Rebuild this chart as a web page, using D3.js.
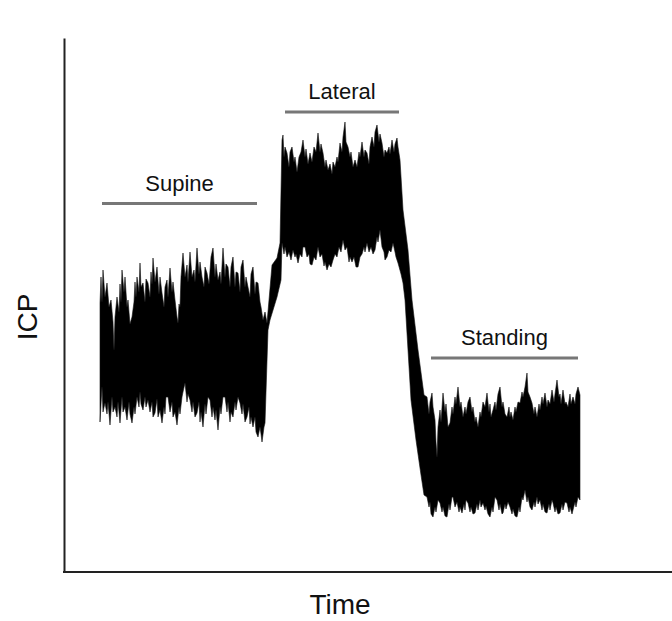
<!DOCTYPE html>
<html>
<head>
<meta charset="utf-8">
<script src="https://cdn.jsdelivr.net/npm/d3@7"></script>
<style>
  body { margin: 0; background: #fff; }
  svg { display: block; font-family: "Liberation Sans", Arial, Helvetica, sans-serif; }
</style>
</head>
<body>
<svg id="chart"></svg>
<script>
// upper envelope of the ICP trace: [time (s), ICP]
const peaks = [
  // supine
  [35, 26.9], [36, 29.5], [37, 27.0], [38, 30.2], [40, 27.5], [42, 28.9], [44, 26.5], [46, 27.2],
  [48, 25.0], [49, 22.2], [50, 25.5], [52, 27.5], [54, 26.0], [55, 28.8], [56, 27.0], [57, 30.2],
  [59, 28.0], [60, 29.5], [62, 26.5], [63, 27.2], [65, 24.8], [67, 25.5], [69, 27.0], [70, 29.0],
  [71, 27.5], [72, 29.5], [74, 28.0], [75, 30.9], [76, 28.5], [78, 28.9], [80, 27.0], [81, 29.3],
  [83, 28.9], [85, 27.5], [86, 30.0], [87, 28.8], [88, 31.4], [90, 29.0], [92, 30.5], [94, 27.8],
  [95, 29.5], [97, 27.9], [99, 26.5], [100, 28.5], [102, 29.2], [103, 27.5], [105, 30.4], [107, 28.0],
  [108, 29.0], [110, 27.2], [112, 25.5], [113, 24.9], [114, 26.8], [115, 26.5], [116, 29.5], [118, 31.9],
  [120, 29.5], [122, 30.7], [123, 29.0], [125, 32.0], [127, 29.5], [129, 30.2], [130, 29.0], [132, 32.4],
  [134, 29.8], [135, 31.0], [137, 29.5], [139, 28.5], [140, 30.5], [142, 29.9], [144, 28.8], [146, 31.5],
  [148, 32.4], [150, 29.5], [151, 30.8], [153, 29.2], [155, 30.0], [156, 28.8], [158, 32.4], [160, 29.5],
  [161, 30.8], [163, 30.5], [165, 28.5], [166, 30.5], [168, 31.5], [170, 28.5], [171, 30.0], [173, 29.9],
  [175, 28.0], [176, 30.5], [178, 31.2], [180, 28.5], [181, 29.5], [183, 28.5], [185, 27.5], [186, 29.8],
  [188, 30.5], [190, 27.8], [191, 29.0], [193, 28.9], [195, 27.0], [196, 26.5], [198, 25.2], [200, 26.0],
  [202, 24.9],
  // change to lateral
  [204, 27.2], [207, 30.7], [212, 31.4], [215, 32.9],
  // lateral
  [217, 43.2], [218, 43.7], [219, 41.5], [220, 42.5], [222, 41.9], [224, 40.5], [225, 42.0], [227, 42.5],
  [229, 41.0], [230, 41.5], [232, 40.0], [234, 41.5], [236, 42.0], [238, 43.2], [240, 41.5], [241, 42.3],
  [243, 40.8], [245, 41.9], [247, 41.0], [249, 42.5], [251, 42.0], [253, 43.9], [255, 42.0], [256, 42.8],
  [258, 41.9], [260, 40.5], [261, 41.2], [263, 40.2], [265, 40.8], [267, 39.8], [268, 41.0], [270, 40.5],
  [272, 41.5], [273, 41.0], [275, 42.9], [277, 42.0], [278, 43.5], [280, 45.0], [281, 43.0], [283, 42.5],
  [285, 41.5], [286, 42.0], [288, 40.5], [290, 41.2], [292, 40.5], [294, 42.0], [295, 41.5], [297, 43.0],
  [299, 41.5], [300, 42.2], [302, 41.9], [304, 40.8], [305, 42.5], [307, 43.5], [309, 42.5], [310, 44.0],
  [312, 44.7], [314, 43.0], [315, 43.8], [317, 42.9], [319, 41.5], [320, 42.2], [322, 41.9], [324, 42.5],
  [325, 41.8], [327, 43.2], [329, 42.0], [330, 42.8], [332, 43.4], [333, 42.5], [335, 41.2],
  // change to standing
  [338, 36.2], [343, 32.2], [347, 27.2], [353, 22.2], [359, 17.7],
  // standing
  [362, 17.5], [364, 15.8], [365, 17.0], [367, 17.9], [368, 16.5], [370, 15.2], [371, 13.0], [372, 11.5],
  [373, 14.5], [375, 16.2], [376, 15.0], [378, 17.9], [380, 16.0], [381, 16.8], [383, 14.5], [385, 14.9],
  [387, 16.5], [388, 15.8], [390, 17.5], [391, 16.8], [393, 18.5], [395, 16.5], [396, 17.0], [398, 15.5],
  [400, 16.5], [401, 15.8], [403, 17.0], [405, 17.5], [407, 16.0], [408, 16.5], [410, 15.0], [411, 15.5],
  [413, 14.5], [415, 16.0], [416, 15.5], [418, 17.0], [420, 16.5], [422, 17.9], [424, 16.0], [425, 16.8],
  [426, 15.5], [428, 16.2], [430, 17.0], [431, 16.2], [433, 17.8], [435, 18.5], [437, 16.5], [438, 17.0],
  [440, 15.8], [442, 15.5], [444, 16.5], [445, 15.5], [446, 16.0], [448, 15.2], [450, 16.5], [451, 16.0],
  [453, 17.0], [455, 16.9], [457, 18.0], [458, 17.5], [460, 18.5], [462, 19.9], [463, 18.0], [465, 17.5],
  [467, 16.9], [469, 15.8], [470, 16.5], [472, 15.5], [474, 16.8], [475, 16.2], [477, 17.5], [478, 16.8],
  [480, 17.9], [482, 16.5], [483, 17.2], [485, 16.8], [487, 18.2], [489, 17.0], [490, 17.8], [492, 19.2],
  [494, 17.5], [495, 17.8], [496, 16.8], [498, 18.2], [500, 16.8], [501, 17.0], [503, 16.5], [505, 17.8],
  [506, 16.8], [508, 17.5], [510, 16.8], [511, 17.8], [513, 18.5], [515, 17.7]
];

// lower envelope of the ICP trace: [time (s), ICP]
const troughs = [
  // supine
  [35, 15.0], [37, 18.5], [38, 16.0], [40, 16.9], [42, 15.8], [43, 17.0], [45, 14.7], [47, 17.5],
  [48, 16.0], [50, 16.5], [52, 15.5], [53, 17.0], [55, 14.9], [57, 17.5], [58, 16.0], [60, 16.5],
  [62, 15.2], [64, 17.0], [65, 15.8], [67, 14.9], [69, 16.5], [70, 15.8], [72, 17.5], [74, 16.5],
  [75, 18.0], [76, 16.8], [78, 16.2], [80, 17.5], [81, 16.5], [83, 17.2], [85, 16.0], [87, 17.0],
  [88, 15.5], [90, 15.9], [92, 17.3], [93, 15.5], [95, 16.2], [97, 14.9], [99, 16.5], [100, 15.8],
  [101, 17.5], [103, 17.5], [105, 16.0], [107, 17.0], [108, 15.5], [110, 16.0], [112, 14.7], [114, 16.5],
  [115, 15.8], [117, 17.5], [118, 18.0], [120, 18.9], [122, 17.0], [123, 17.8], [125, 17.2], [127, 16.0],
  [128, 17.0], [130, 15.5], [132, 15.9], [134, 17.0], [135, 15.0], [136, 16.0], [138, 14.5], [140, 16.8],
  [141, 15.8], [143, 17.5], [145, 17.2], [147, 15.5], [148, 16.5], [150, 15.2], [151, 16.2], [153, 14.2],
  [155, 16.5], [156, 15.8], [158, 17.5], [160, 17.5], [162, 16.0], [163, 17.0], [165, 15.0], [166, 16.0],
  [168, 15.5], [170, 17.0], [171, 16.2], [173, 17.5], [175, 16.9], [177, 15.8], [178, 16.8], [180, 15.0],
  [182, 15.5], [184, 16.5], [185, 14.8], [186, 15.5], [188, 14.5], [190, 15.5], [191, 14.0], [193, 13.5],
  [195, 14.5], [196, 13.8], [197, 13.0], [199, 14.5], [200, 14.9],
  // change to lateral
  [203, 24.2], [205, 25.2], [212, 27.5], [216, 29.2],
  // lateral
  [217, 32.9], [219, 31.8], [220, 32.5], [222, 31.5], [224, 32.0], [226, 31.2], [228, 32.2], [230, 31.5],
  [231, 31.8], [233, 30.9], [235, 31.8], [237, 31.5], [238, 32.5], [240, 32.5], [242, 31.5], [244, 31.8],
  [245, 30.8], [247, 30.7], [249, 31.5], [251, 31.2], [253, 32.5], [255, 31.5], [257, 31.8], [259, 30.6],
  [260, 31.0], [262, 30.2], [264, 30.8], [266, 30.5], [268, 31.2], [270, 31.8], [272, 31.5], [274, 32.5],
  [276, 32.0], [278, 33.2], [280, 32.2], [282, 32.5], [284, 31.0], [285, 31.5], [287, 31.0], [289, 31.5],
  [291, 30.5], [293, 30.5], [295, 31.5], [297, 31.8], [299, 32.5], [300, 32.0], [302, 32.9], [304, 32.0],
  [306, 32.5], [308, 31.8], [310, 32.2], [312, 33.5], [313, 33.0], [315, 34.2], [317, 32.5], [319, 32.0],
  [320, 31.2], [322, 31.5], [324, 32.2], [326, 32.0], [328, 32.9], [330, 32.0], [331, 31.5], [333, 30.9],
  [336, 29.8], [338, 28.9],
  // change to standing
  [340, 27.2], [343, 22.2], [346, 17.2], [351, 13.2], [356, 9.7], [359, 7.7],
  // standing
  [362, 7.5], [364, 6.5], [365, 7.0], [366, 5.8], [368, 5.5], [370, 6.5], [371, 6.0], [373, 7.2],
  [375, 6.9], [377, 6.0], [378, 6.5], [380, 5.6], [382, 5.5], [384, 6.8], [385, 6.2], [387, 7.5],
  [388, 7.5], [390, 6.5], [392, 7.0], [394, 6.0], [395, 6.5], [397, 5.9], [399, 6.8], [400, 6.2],
  [401, 7.2], [403, 6.9], [405, 6.0], [406, 6.5], [408, 5.8], [410, 5.9], [412, 6.8], [413, 6.2],
  [415, 7.2], [416, 6.5], [418, 6.9], [420, 6.2], [421, 6.6], [423, 5.8], [425, 5.5], [427, 6.5],
  [428, 6.0], [430, 7.5], [432, 7.2], [434, 6.2], [435, 6.8], [437, 5.8], [438, 5.9], [440, 6.8],
  [441, 6.3], [443, 7.0], [445, 6.5], [447, 5.8], [448, 6.3], [450, 5.6], [452, 5.5], [454, 6.5],
  [455, 6.0], [457, 7.5], [458, 7.2], [460, 8.2], [462, 7.0], [463, 7.5], [465, 6.5], [467, 6.2],
  [469, 7.0], [470, 6.5], [472, 7.5], [473, 6.8], [475, 7.2], [477, 6.2], [478, 6.8], [480, 6.0],
  [482, 5.9], [484, 6.8], [485, 6.2], [487, 7.2], [488, 6.9], [490, 6.0], [491, 6.5], [493, 5.8],
  [495, 5.9], [497, 6.8], [498, 6.2], [500, 7.0], [502, 6.9], [504, 6.0], [505, 6.5], [507, 5.8],
  [508, 6.2], [510, 7.0], [511, 6.5], [513, 7.5], [515, 7.2]
];

// posture periods
const postures = ["Supine", "Lateral", "Standing"];
const postureStart = [37, 220, 366];
const postureEnd = [192, 334, 513];
const postureLevel = [36.85, 46.0, 21.4];

const width = 672;
const height = 621;

const svg = d3.select("#chart").attr("width", width).attr("height", height);

const x = d3.scaleLinear().domain([0, 607]).range([65, 672]);
const y = d3.scaleLinear().domain([0, 53.4]).range([572, 38]);

// trace as a filled band between the two envelopes
const outline = peaks.concat(troughs.slice().reverse());
svg.append("path")
  .attr("d", d3.line(d => x(d[0]), d => y(d[1]))(outline) + "Z")
  .attr("fill", "#000")
  .attr("stroke", "#111")
  .attr("stroke-width", 0.6)
  .attr("stroke-linejoin", "round");

// axes without ticks
svg.append("g")
  .attr("transform", `translate(${x(0) - 1},0)`)
  .call(d3.axisLeft(y).ticks(0).tickSize(0).tickSizeOuter(0))
  .call(g => g.select(".domain").attr("stroke", "#222").attr("stroke-width", 2));

svg.append("g")
  .attr("transform", `translate(0,${y(0)})`)
  .call(d3.axisBottom(x).ticks(0).tickSize(0).tickSizeOuter(0))
  .call(g => g.select(".domain").attr("stroke", "#222").attr("stroke-width", 2)
    .attr("d", `M${x(0) - 2},0H${x(607)}`));

// posture bars and labels
postures.forEach((name, i) => {
  svg.append("line")
    .attr("x1", x(postureStart[i]))
    .attr("x2", x(postureEnd[i]))
    .attr("y1", y(postureLevel[i]))
    .attr("y2", y(postureLevel[i]))
    .attr("stroke", "#777")
    .attr("stroke-width", 3);

  svg.append("text")
    .attr("x", x((postureStart[i] + postureEnd[i]) / 2))
    .attr("y", y(postureLevel[i]) - 13)
    .attr("text-anchor", "middle")
    .style("font-size", "22px")
    .style("fill", "#111")
    .text(name);
});

svg.append("text")
  .attr("x", 340)
  .attr("y", 614)
  .attr("text-anchor", "middle")
  .style("font-size", "28px")
  .style("fill", "#111")
  .text("Time");

svg.append("text")
  .attr("transform", "translate(37,317) rotate(-90)")
  .attr("text-anchor", "middle")
  .style("font-size", "28px")
  .style("fill", "#111")
  .text("ICP");
</script>
</body>
</html>
